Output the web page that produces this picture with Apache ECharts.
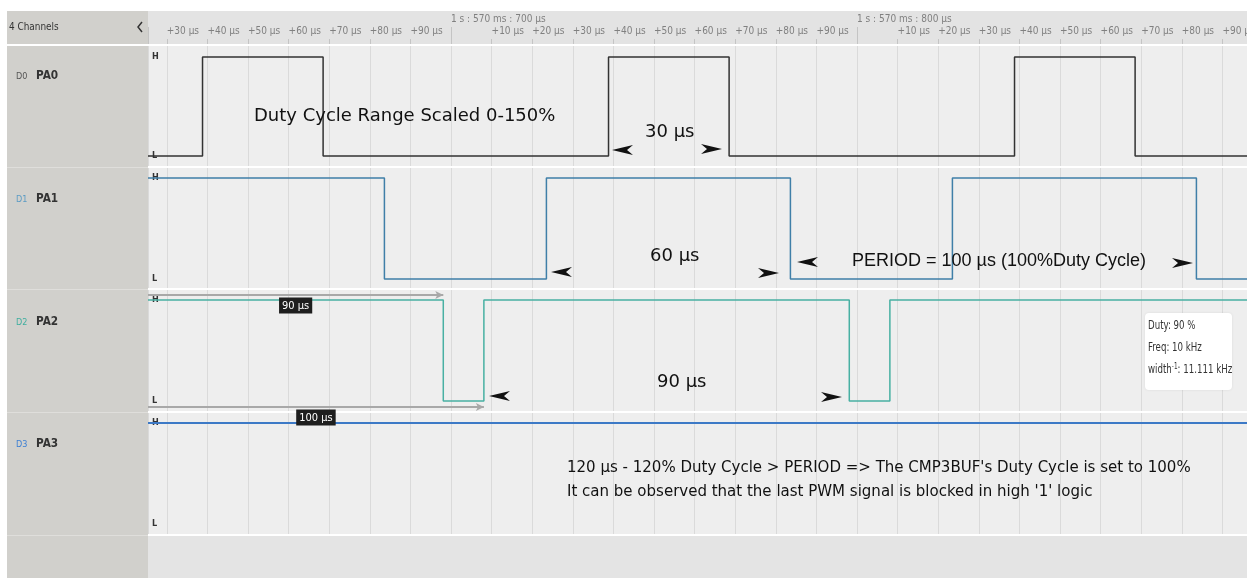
<!DOCTYPE html>
<html>
<head>
<meta charset="utf-8">
<script src="https://cdn.jsdelivr.net/npm/echarts@6/dist/echarts.min.js"></script>
<style>
  html, body { margin: 0; padding: 0; background: #fff; }
  #chart { width: 1247px; height: 578px; }
</style>
</head>
<body>
<div id="chart"></div>
<script>
// visible time window, in µs relative to 1 s : 570 ms : 700 µs
const T_MIN = -74.63;
const T_MAX = 196.06;

const channelNames = ['PA0', 'PA1', 'PA2', 'PA3'];
const channelTags = ['D0', 'D1', 'D2', 'D3'];
const startLevels = [0, 1, 1, 1];
// edge times (µs), each edge toggles the level
const d0Edges = [-61.2, -31.5, 38.8, 68.5, 138.8, 168.5];
const d1Edges = [-16.4, 23.5, 83.6, 123.5, 183.6];
const d2Edges = [-1.9, 8.1, 98.1, 108.1];
const d3Edges = [];

const majorLabels = ['1 s : 570 ms : 700 µs', '1 s : 570 ms : 800 µs'];
const measureNames = ['90 µs', '100 µs'];
const measureEnds = [-1.9, 8.1];
const infoLines = ['Duty: 90 %', 'Freq: 10 kHz', 'width{sup|-1}: 11.111 kHz'];

const NARROW = '"Liberation Sans Narrow", "DejaVu Sans Condensed", "Roboto", sans-serif';
const lineColors = ['#333333', '#3f7fa8', '#48b0a3', '#3c79c6'];
const tagColors = ['#555555', '#5b9bc4', '#3fae9f', '#3b7fd4'];
const rowTops = [57, 178, 300, 423];
const rowHeights = [99, 101, 101, 101];

function steps(start, edges) {
  const pts = [[T_MIN, start]];
  let v = start;
  edges.forEach(t => {
    pts.push([t, v]);
    v = 1 - v;
    pts.push([t, v]);
  });
  pts.push([T_MAX, v]);
  return pts;
}
const allEdges = [d0Edges, d1Edges, d2Edges, d3Edges];

const chart = echarts.init(document.getElementById('chart'));

const grids = [
  {left: 148, right: 0, top: 11, height: 33, show: true, backgroundColor: '#e3e3e3', borderWidth: 0, outerBoundsMode: 'none'},
  {left: 148, right: 0, top: 44, height: 491, show: true, backgroundColor: '#eeeeee', borderWidth: 0, outerBoundsMode: 'none'}
];
rowTops.forEach((t, i) => grids.push({left: 148, right: 0, top: t, height: rowHeights[i], outerBoundsMode: 'none'}));

const xAxes = [
  {
    gridIndex: 0, type: 'value', position: 'bottom', min: T_MIN, max: T_MAX, splitNumber: 27,
    axisLine: {show: false},
    axisTick: {show: true, inside: true, length: 5, lineStyle: {color: '#c4c4c4'}},
    splitLine: {show: false},
    axisLabel: {
      inside: true, margin: 8, align: 'left', color: '#808080', fontSize: 10, fontFamily: NARROW,
      formatter: v => {
        const r = Math.round(v);
        if (Math.abs(v - r) > 1e-6 || r % 10 !== 0) return '';
        const m = ((r % 100) + 100) % 100;
        return m === 0 ? '' : '+' + m + ' µs';
      }
    }
  },
  {
    gridIndex: 0, type: 'value', position: 'bottom', min: T_MIN, max: T_MAX, splitNumber: 3,
    axisLine: {show: false},
    axisTick: {show: true, inside: true, length: 17, lineStyle: {color: '#c4c4c4'}},
    splitLine: {show: false},
    axisLabel: {
      inside: true, margin: 20, align: 'left', color: '#808080', fontSize: 10, fontFamily: NARROW,
      formatter: v => {
        const r = Math.round(v);
        if (Math.abs(v - r) > 1e-6 || r % 100 !== 0) return '';
        return majorLabels[r / 100] || '';
      }
    }
  },
  {
    gridIndex: 1, type: 'value', min: T_MIN, max: T_MAX, splitNumber: 27,
    axisLine: {show: false}, axisTick: {show: false}, axisLabel: {show: false},
    splitLine: {show: true, lineStyle: {color: '#dadada', width: 1}}
  }
];
const yAxes = [
  {gridIndex: 0, type: 'value', show: false},
  {gridIndex: 1, type: 'value', show: false}
];
rowTops.forEach((t, i) => {
  xAxes.push({gridIndex: i + 2, type: 'value', min: T_MIN, max: T_MAX, show: false});
  yAxes.push({
    gridIndex: i + 2, type: 'value', min: 0, max: 1, interval: 1,
    axisLine: {show: false}, axisTick: {show: false}, splitLine: {show: false},
    axisLabel: {
      inside: true, margin: 4, color: '#333', fontSize: 9, fontWeight: 'bold', fontFamily: NARROW,
      formatter: v => (v === 1 ? 'H' : 'L')
    }
  });
});

const series = allEdges.map((edges, i) => ({
  name: channelNames[i],
  type: 'line',
  xAxisIndex: i + 3,
  yAxisIndex: i + 2,
  data: steps(startLevels[i], edges),
  symbol: 'none',
  clip: false,
  z: 3,
  lineStyle: {color: lineColors[i], width: i === 3 ? 2 : 1.5},
  animation: false
}));

// measurement rulers drawn on PA2's axes
const measureLevels = [1.05, -0.06];
measureNames.forEach((n, k) => {
  const lvl = measureLevels[k];
  const mid = (T_MIN + measureEnds[k]) / 2;
  series.push({
    type: 'line', xAxisIndex: 5, yAxisIndex: 4, clip: false, silent: true, z: 15,
    lineStyle: {color: '#a8a8a8', width: 2},
    itemStyle: {color: '#a8a8a8'},
    showSymbol: true,
    data: [
      {value: [T_MIN, lvl], symbol: 'none'},
      {value: [mid, lvl], symbol: 'circle', symbolSize: 1, itemStyle: {color: 'transparent'},
        label: {show: true, position: 'bottom', distance: 2, formatter: () => n,
          color: '#fff', backgroundColor: '#1e1e1e', padding: [3, 3, 2, 3], fontSize: 11, fontFamily: NARROW}},
      {value: [measureEnds[k], lvl], symbol: 'arrow', symbolSize: [6, 8], symbolRotate: -90}
    ]
  });
});

// --- overlay graphics: side panel, separators, notes
const g = [];
g.push({type: 'rect', shape: {x: 7, y: 11, width: 141, height: 567}, style: {fill: '#d1d0cc'}, z: 10});
g.push({type: 'rect', shape: {x: 148, y: 536, width: 1099, height: 42}, style: {fill: '#e4e4e4'}, z: 10});
g.push({type: 'rect', shape: {x: 7, y: 44, width: 1240, height: 2}, style: {fill: '#ffffff'}, z: 11});
[166, 288, 411, 534].forEach(y => {
  g.push({type: 'rect', shape: {x: 148, y: y, width: 1099, height: 2}, style: {fill: '#ffffff'}, z: 11});
  g.push({type: 'rect', shape: {x: 7, y: y + 1, width: 141, height: 1}, style: {fill: '#dfdedb'}, z: 11});
});
g.push({type: 'text', x: 9, y: 27, z: 12, scaleX: 0.9, style: {text: '4 Channels', font: '11px ' + NARROW, fill: '#333', verticalAlign: 'middle'}});
g.push({type: 'polyline', z: 12, shape: {points: [[142, 22], [138, 27], [142, 32]]}, style: {stroke: '#333', lineWidth: 1.5, fill: null}});
const tagY = [77, 200, 323, 445];
channelNames.forEach((n, i) => {
  g.push({type: 'text', x: 16, y: tagY[i], z: 12, style: {text: channelTags[i], font: '9px ' + NARROW, fill: tagColors[i], verticalAlign: 'middle'}});
  g.push({type: 'text', x: 36, y: tagY[i] - 1, z: 12, scaleX: 0.9, style: {text: n, font: 'bold 13px ' + NARROW, fill: '#333', verticalAlign: 'middle'}});
});

const SANS = '"DejaVu Sans", sans-serif';
const ARIAL = '"Liberation Sans", Arial, sans-serif';
function note(text, x, y, font) {
  g.push({type: 'text', x: x, y: y, z: 20, style: {text: text, font: font, fill: '#111', verticalAlign: 'middle'}});
}
note('Duty Cycle Range Scaled 0-150%', 254, 116, '18px ' + SANS);
note('30 µs', 645, 132, '18px ' + SANS);
note('60 µs', 650, 256, '18px ' + SANS);
note('PERIOD = 100 µs (100%Duty Cycle)', 852, 261, '18px ' + ARIAL);
note('90 µs', 657, 382, '18px ' + SANS);
note("120 µs - 120% Duty Cycle > PERIOD => The CMP3BUF's Duty Cycle is set to 100%", 567, 468, '16.7px ' + NARROW);
note("It can be observed that the last PWM signal is blocked in high '1' logic", 567, 492, '16.7px ' + NARROW);

function arrow(x, y, dir) {
  const d = dir;
  g.push({
    type: 'polygon', z: 20,
    shape: {points: [[x, y], [x + d * 21, y - 5], [x + d * 15, y], [x + d * 21, y + 5]]},
    style: {fill: '#111'}
  });
}
arrow(612, 150, 1); arrow(722, 149, -1);
arrow(551, 272, 1); arrow(779, 273, -1);
arrow(797, 262, 1); arrow(1193, 263, -1);
arrow(489, 396, 1); arrow(842, 397, -1);

// info box
g.push({type: 'rect', z: 20, shape: {x: 1145, y: 313, width: 87, height: 77, r: 4},
  style: {fill: '#ffffff', shadowBlur: 3, shadowColor: 'rgba(0,0,0,0.08)'}});
infoLines.forEach((t, k) => {
  g.push({type: 'text', x: 1148, y: 326 + k * 22, z: 21, scaleX: 0.8, style: {
    text: t, font: '12px ' + NARROW, fill: '#333', verticalAlign: 'middle',
    rich: {sup: {fontSize: 8, fontFamily: NARROW, fill: '#333', verticalAlign: 'top', padding: [0, 0, 6, 0]}}
  }});
});

chart.setOption({
  animation: false,
  backgroundColor: '#ffffff',
  grid: grids,
  xAxis: xAxes,
  yAxis: yAxes,
  series: series,
  graphic: g
});
</script>
</body>
</html>
